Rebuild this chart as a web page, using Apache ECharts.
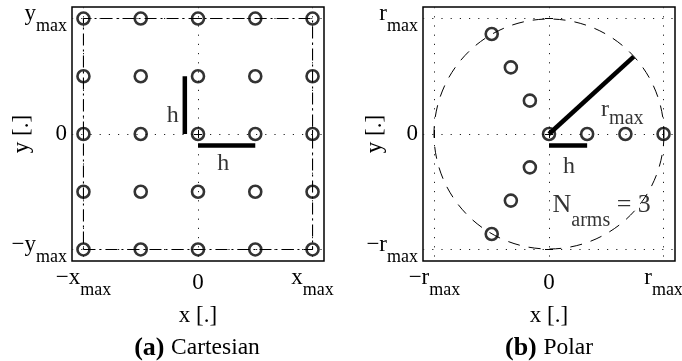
<!DOCTYPE html>
<html>
<head>
<meta charset="utf-8">
<script src="https://cdn.jsdelivr.net/npm/echarts@6/dist/echarts.min.js"></script>
<style>html,body{margin:0;padding:0;background:#fff}#c{width:682px;height:361px}</style>
</head>
<body>
<div id="c"></div>
<script>
// ---- data ----
const cartGridX = [-2, -1, 0, 1, 2];
const cartGridY = [-2, -1, 0, 1, 2];
const cartTicks = [-2, 0, 2];
const cartXTickText = [['−x', 'max'], ['0', ''], ['x', 'max']];
const cartYTickText = [['−y', 'max'], ['0', ''], ['y', 'max']];
const cartBoundary = [[-2, -2], [2, -2], [2, 2], [-2, 2], [-2, -2]];
const cartStepV = [[-0.23, 0], [-0.23, 1]];
const cartStepH = [[0, -0.2], [1, -0.2]];

const polarTicks = [-1, 0, 1];
const polarXTickText = [['−r', 'max'], ['0', ''], ['r', 'max']];
const polarYTickText = [['−r', 'max'], ['0', ''], ['r', 'max']];
const polarPoints = [
  [0, 0], [0.333, 0], [0.667, 0], [1, 0],
  [-0.167, 0.289], [-0.333, 0.577], [-0.5, 0.866],
  [-0.167, -0.289], [-0.333, -0.577], [-0.5, -0.866]
];
const polarCircle = [[0, 0, 1]];
const polarRmaxLine = [[0, 0], [0.74, 0.67]];
const polarStepH = [[0, -0.1], [0.333, -0.1]];

const cartAnnot = [[-0.44, 0.31, '{a|h}'], [0.44, -0.52, '{a|h}']];
const polarAnnot = [[0.175, -0.28, '{a|h}'], [0.64, 0.21, '{a|r}{b|max}'], [0.46, -0.67, '{n|N}{b|arms}{n| = 3}']];

// ---- chart ----
const FONT = 'Liberation Serif';
const chart = echarts.init(document.getElementById('c'), null, {renderer: 'canvas'});

const tickRich = {
  m: {fontSize: 23, fontFamily: FONT, color: '#000', lineHeight: 22, verticalAlign: 'top'},
  s: {fontSize: 18, fontFamily: FONT, color: '#000', lineHeight: 33, verticalAlign: 'bottom'},
  z: {fontSize: 23, fontFamily: FONT, color: '#000', lineHeight: 33, verticalAlign: 'middle'}
};
function fmt(ticks, texts) {
  return function (v) {
    let i = ticks.findIndex(t => Math.abs(t - v) < 1e-6);
    if (i < 0) return '';
    const t = texts[i];
    return t[1] ? '{m|' + t[0] + '}{s|' + t[1] + '}' : '{z|' + t[0] + '}';
  };
}
const dotted = {show: true, lineStyle: {color: '#222', width: 1, type: [1.2, 8]}};
function mainAxis(gridIndex, lim, ticks, texts, isX, name, gap) {
  return {
    type: 'value', gridIndex, min: -lim, max: lim,
    position: isX ? 'bottom' : 'left',
    name, nameLocation: 'middle', nameGap: gap, nameMoveOverlap: false,
    nameTextStyle: {fontFamily: FONT, fontSize: 23, color: '#000'},
    axisLine: {show: false},
    axisTick: {show: true, inside: true, length: 4, customValues: ticks, lineStyle: {color: '#000', width: 1}},
    axisLabel: {show: true, margin: 5, customValues: ticks, formatter: fmt(ticks, texts), rich: tickRich,
      align: isX ? 'center' : 'right', hideOverlap: false},
    splitLine: dotted
  };
}
function mirrorAxis(gridIndex, lim, ticks, isX) {
  return {
    type: 'value', gridIndex, min: -lim, max: lim,
    position: isX ? 'top' : 'right',
    axisLine: {show: false},
    axisTick: {show: true, inside: true, length: 4, customValues: ticks, lineStyle: {color: '#000', width: 1}},
    axisLabel: {show: false},
    splitLine: {show: false}
  };
}

const cartPoints = [];
cartGridY.forEach(y => cartGridX.forEach(x => cartPoints.push([x, y])));

const circleStyle = {color: 'rgba(0,0,0,0)', borderColor: '#000', borderWidth: 2.6};
function seg(data, xi, yi, style) {
  return {type: 'line', xAxisIndex: xi, yAxisIndex: yi, data, symbol: 'none', silent: true,
    lineStyle: style, animation: false};
}
const annotRich = {
  a: {fontSize: 24, fontFamily: FONT, color: '#000'},
  n: {fontSize: 26, fontFamily: FONT, color: '#000', lineHeight: 26, verticalAlign: 'top'},
  b: {fontSize: 20, fontFamily: FONT, color: '#000', lineHeight: 38, verticalAlign: 'bottom'}
};
function annot(data, xi, yi) {
  return {type: 'scatter', xAxisIndex: xi, yAxisIndex: yi, data, symbolSize: 0, silent: true, animation: false,
    label: {show: true, position: 'inside', formatter: p => p.data[2], rich: annotRich}};
}

const gridBase = {show: true, borderColor: '#000', borderWidth: 1.5, backgroundColor: 'transparent',
  containLabel: false, outerBoundsMode: 'none'};
const capRich = {b: {fontSize: 26, fontWeight: 'bold', fontFamily: FONT, fill: '#000'},
  t: {fontSize: 23.5, fontFamily: FONT, fill: '#000'}};
chart.setOption({
  animation: false,
  grid: [
    Object.assign({left: 72, top: 7, width: 252, height: 254}, gridBase),
    Object.assign({left: 423, top: 7, width: 252, height: 254}, gridBase)
  ],
  xAxis: [
    mainAxis(0, 2.2, cartTicks, cartXTickText, true, 'x [.]', 43),
    mirrorAxis(0, 2.2, cartTicks, true),
    mainAxis(1, 1.1, polarTicks, polarXTickText, true, 'x [.]', 43),
    mirrorAxis(1, 1.1, polarTicks, true)
  ],
  yAxis: [
    mainAxis(0, 2.2, cartTicks, cartYTickText, false, 'y [.]', 39),
    mirrorAxis(0, 2.2, cartTicks, false),
    mainAxis(1, 1.1, polarTicks, polarYTickText, false, 'y [.]', 37),
    mirrorAxis(1, 1.1, polarTicks, false)
  ],
  series: [
    seg(cartBoundary, 0, 0, {color: '#000', width: 1.1, type: [12, 4, 2, 4]}),
    seg(cartStepV, 0, 0, {color: '#000', width: 4.5, cap: 'butt'}),
    seg(cartStepH, 0, 0, {color: '#000', width: 4.5, cap: 'butt'}),
    {type: 'scatter', xAxisIndex: 0, yAxisIndex: 0, data: cartPoints, symbol: 'circle', symbolSize: 12,
      itemStyle: circleStyle, silent: true},
    annot(cartAnnot, 0, 0),
    {type: 'custom', xAxisIndex: 2, yAxisIndex: 2, data: polarCircle, silent: true,
      renderItem: function (params, api) {
        const c = api.coord([api.value(0), api.value(1)]);
        const s = api.size([api.value(2), api.value(2)]);
        return {type: 'circle', shape: {cx: c[0], cy: c[1], r: (s[0] + s[1]) / 2},
          style: {fill: null, stroke: '#000', lineWidth: 1, lineDash: [12, 9]}};
      }},
    seg(polarRmaxLine, 2, 2, {color: '#000', width: 4.5, cap: 'butt'}),
    seg(polarStepH, 2, 2, {color: '#000', width: 4.5, cap: 'butt'}),
    {type: 'scatter', xAxisIndex: 2, yAxisIndex: 2, data: polarPoints, symbol: 'circle', symbolSize: 12,
      itemStyle: circleStyle, silent: true},
    annot(polarAnnot, 2, 2)
  ],
  graphic: [
    {type: 'text', x: 197, y: 348, style: {text: '{b|(a)}  {t|Cartesian}', align: 'center', verticalAlign: 'middle', rich: capRich}},
    {type: 'text', x: 549, y: 348, style: {text: '{b|(b)}  {t|Polar}', align: 'center', verticalAlign: 'middle', rich: capRich}}
  ]
});
</script>
</body>
</html>
